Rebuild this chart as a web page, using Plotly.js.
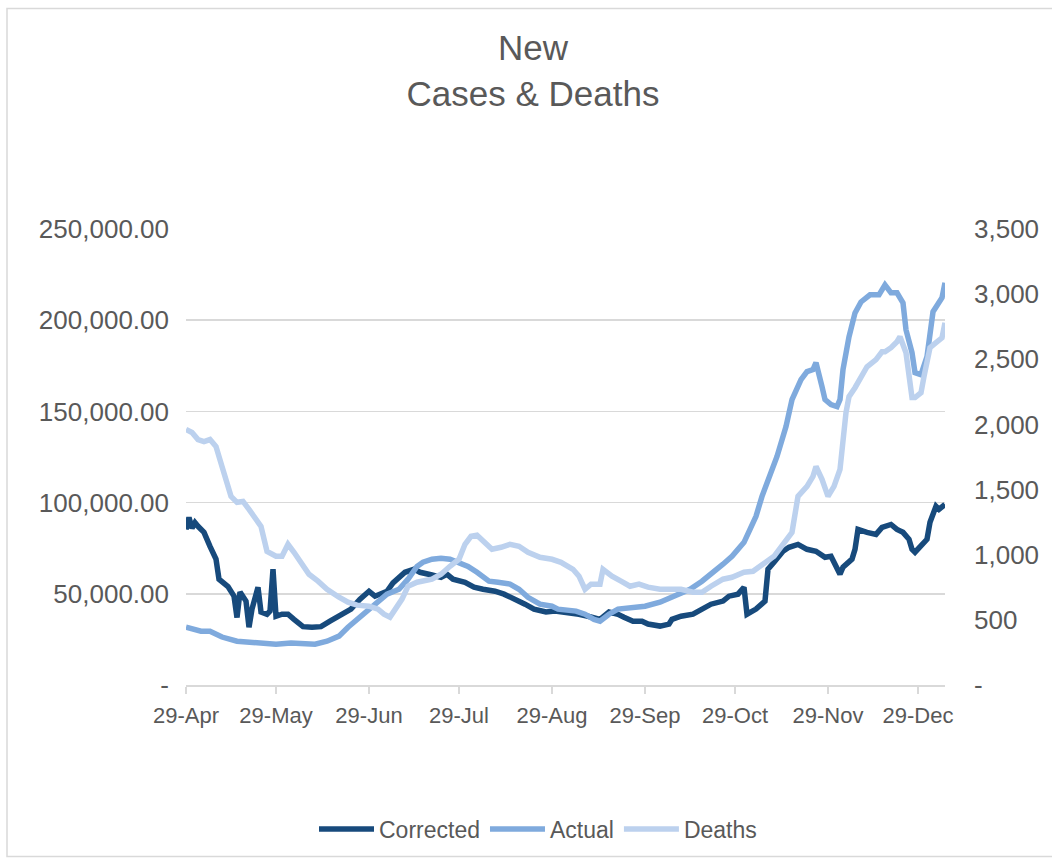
<!DOCTYPE html>
<html>
<head>
<meta charset="utf-8">
<script src="https://cdn.plot.ly/plotly-3.0.1.min.js"></script>
<style>
  body { margin: 0; background: #ffffff; }
  #chart { width: 1052px; height: 861px; }
</style>
</head>
<body>
<div id="chart"></div>
<script>
// Days counted from 29-Apr-2020
const correctedDays = [0,1,2,3,4,6,8,10,11,14,16,17,18,20,21,22,24,25,27,28,29,30,32,34,36,39,42,45,48,51,55,58,61,63,67,69,73,76,78,82,85,87,89,93,96,99,103,106,110,113,116,120,123,127,131,134,138,141,144,146,149,152,154,158,161,162,165,169,172,175,179,181,184,186,187,190,193,194,196,199,201,204,207,210,213,215,216,218,219,222,223,224,227,230,232,235,237,239,241,242,243,245,247,248,250,251,253];
const correctedValues = [85300,91900,86000,89000,87000,83700,76000,69000,58000,54000,48700,37000,51000,46000,31700,41600,53600,40000,38800,40500,63500,37700,38800,38800,36000,32000,31700,32000,35000,37700,41600,47000,51400,48700,51400,56000,61800,63500,61800,60300,59000,60700,58000,56300,53600,52500,51400,49800,47000,44300,41600,40000,40500,40000,38800,37700,36000,40000,38800,37200,35000,35000,33400,32300,33400,36000,37700,38800,41600,44300,46000,48700,49800,53600,38800,41600,46000,63500,67300,73300,75500,77100,74400,73300,70000,70600,67300,60700,64600,69000,74400,85300,83700,82600,86400,88000,85300,83700,79900,74400,72800,76000,79900,89200,98000,96300,99000];

const actualDays = [0,5,8,12,17,21,26,30,35,41,43,47,51,54,57,61,64,67,71,74,77,79,82,85,88,91,94,97,101,104,108,111,114,118,122,124,130,133,136,138,141,144,149,153,158,162,165,168,172,175,179,182,186,188,190,192,194,197,200,202,205,207,209,210,212,213,215,217,218,219,221,223,225,228,231,233,235,237,239,240,242,243,245,247,249,250,252,253];
const actualValues = [31700,29500,29500,26300,24000,23500,23000,22400,23000,22400,22400,24000,26800,31700,36000,41600,46000,49800,52500,58000,65000,67300,69000,69500,69000,67300,65000,61800,56900,56300,55300,52500,48100,44300,43200,41600,40500,38800,36000,35000,38800,41600,42700,43200,45400,48100,50000,52500,56900,60700,66200,70600,78200,85300,92500,103400,112700,125300,141700,156500,167400,171800,172900,176700,163600,156500,153700,152600,156500,172900,190900,204000,210000,213900,213900,219400,215000,215000,209500,194700,182200,171200,170100,180000,204600,206800,212300,220500];

const deathsDays = [0,2,4,6,8,10,12,15,17,19,21,25,27,30,32,34,36,39,41,44,47,51,54,57,61,64,66,68,69,72,74,77,82,85,88,91,93,95,97,99,102,105,108,111,114,118,122,125,129,131,133,135,138,139,142,145,148,151,154,158,162,165,169,172,175,179,182,186,189,192,196,199,202,204,207,209,210,212,214,216,218,220,221,223,225,227,230,232,233,235,237,238,240,241,242,243,245,246,248,250,252,253];
const deathsValues = [1961,1938,1884,1869,1884,1830,1677,1448,1402,1409,1348,1218,1026,988,988,1080,1019,911,850,797,735,674,636,613,605,582,544,521,559,659,758,789,812,850,911,965,1080,1141,1150,1103,1042,1057,1080,1065,1019,980,965,942,888,835,735,774,774,888,835,797,758,774,751,735,735,735,712,712,758,812,827,865,873,927,988,1080,1172,1448,1524,1601,1677,1578,1448,1524,1654,2091,2213,2282,2367,2443,2497,2558,2558,2589,2635,2673,2550,2344,2206,2206,2244,2367,2589,2627,2665,2780];

const seriesNames = ["Corrected", "Actual", "Deaths"];
const xTickDates = ["2020-04-29", "2020-05-29", "2020-06-29", "2020-07-29", "2020-08-29", "2020-09-29", "2020-10-29", "2020-11-29", "2020-12-29"];
const xTickLabels = ["29-Apr", "29-May", "29-Jun", "29-Jul", "29-Aug", "29-Sep", "29-Oct", "29-Nov", "29-Dec"];
const leftTickValues = [0, 50000, 100000, 150000, 200000, 250000];
const leftTickLabels = ["-", "50,000.00", "100,000.00", "150,000.00", "200,000.00", "250,000.00"];
const rightTickValues = [0, 500, 1000, 1500, 2000, 2500, 3000, 3500];
const rightTickLabels = ["-", "500", "1,000", "1,500", "2,000", "2,500", "3,000", "3,500"];

function dayToDate(d) {
  const t = new Date(Date.UTC(2020, 3, 29));
  t.setUTCDate(t.getUTCDate() + d);
  return t.toISOString().slice(0, 10);
}

const FONT = "Liberation Sans, Arial, sans-serif";
const TXT = "#595959";
const GRID = "#d9d9d9";

const traces = [
  { x: correctedDays.map(dayToDate), y: correctedValues, name: seriesNames[0], type: "scatter", mode: "lines",
    line: { color: "#174A7C", width: 5.5 }, yaxis: "y" },
  { x: actualDays.map(dayToDate), y: actualValues, name: seriesNames[1], type: "scatter", mode: "lines",
    line: { color: "#7FAADD", width: 5.5 }, yaxis: "y" },
  { x: deathsDays.map(dayToDate), y: deathsValues, name: seriesNames[2], type: "scatter", mode: "lines",
    line: { color: "#BCD1EE", width: 5.5 }, yaxis: "y2" }
];

const layout = {
  width: 1052, height: 861,
  paper_bgcolor: "#ffffff", plot_bgcolor: "#ffffff",
  margin: { l: 186, r: 107, t: 229, b: 175 },
  font: { family: FONT, color: TXT, size: 22 },
  title: { text: "New<br>Cases & Deaths", font: { family: FONT, size: 35, color: TXT },
           xref: "container", x: 533 / 1052, xanchor: "center", yref: "container", y: 1 - 60 / 861, yanchor: "top" },
  showlegend: true,
  legend: { orientation: "h", xref: "paper", x: (538 - 186) / 759, xanchor: "center", yref: "paper", y: (686 - 829) / 457, yanchor: "middle",
            font: { family: FONT, size: 23, color: TXT }, itemwidth: 55 },
  xaxis: {
    type: "date", range: [dayToDate(0), dayToDate(253)],
    tickvals: xTickDates, ticktext: xTickLabels,
    showgrid: false, zeroline: false,
    showline: true, linecolor: GRID, linewidth: 1.5,
    ticks: "outside", ticklen: 7, tickcolor: GRID, tickwidth: 1.5,
    tickfont: { family: FONT, size: 22, color: TXT }, ticklabelstandoff: 3
  },
  yaxis: {
    range: [0, 250000], tickvals: leftTickValues, ticktext: leftTickLabels,
    showgrid: true, gridcolor: GRID, gridwidth: 1.5, zeroline: false, showline: false, ticks: "",
    tickfont: { family: FONT, size: 26, color: TXT }, ticklabelstandoff: 16
  },
  yaxis2: {
    range: [0, 3500], tickvals: rightTickValues, ticktext: rightTickLabels,
    overlaying: "y", side: "right", showgrid: false, zeroline: false, showline: false, ticks: "",
    tickfont: { family: FONT, size: 26, color: TXT }, ticklabelstandoff: 28
  },
  shapes: [
    { type: "rect", xref: "paper", yref: "paper", x0: (7 - 186) / 759, x1: 1.3, y0: (686 - 858) / 457, y1: (686 - 8) / 457,
      line: { color: GRID, width: 1.5 }, fillcolor: "rgba(0,0,0,0)", layer: "below" }
  ]
};

Plotly.newPlot("chart", traces, layout, { staticPlot: true, displayModeBar: false });
</script>
</body>
</html>
